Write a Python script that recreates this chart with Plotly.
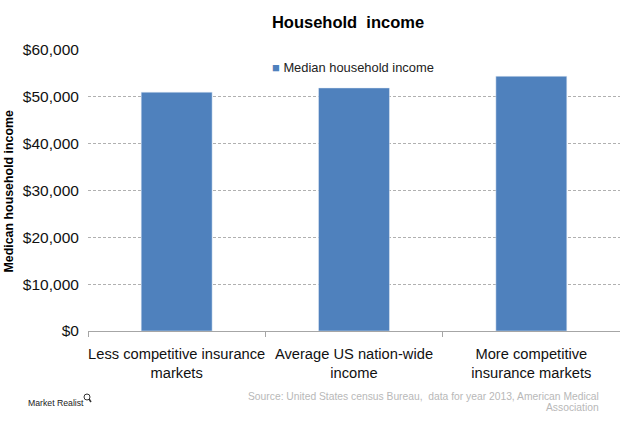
"""Household income bar chart."""
import plotly.graph_objects as go

CATEGORIES = [
    "Less competitive insurance<br>markets",
    "Average US nation-wide<br>income",
    "More competitive<br>insurance markets",
]
INCOME = [51000, 51900, 54400]
TICK_VALUES = [0, 10000, 20000, 30000, 40000, 50000, 60000]
TICK_LABELS = ["$0", "$10,000", "$20,000", "$30,000", "$40,000", "$50,000", "$60,000"]

FONT = "Liberation Sans"
W, H = 620, 428
LEFT, TOP, BOTTOM = 88, 50, 331


def px_x(x):
    # pixel -> paper
    return (x - LEFT) / (W - LEFT)


def px_y(y):
    return (BOTTOM - y) / (BOTTOM - TOP)


fig = go.Figure(go.Bar(
    x=CATEGORIES, y=INCOME, name="Median household income",
    marker=dict(color="#4f81bd"), width=0.4, showlegend=False))

fig.update_layout(
    width=W, height=H,
    margin=dict(l=LEFT, r=0, t=TOP, b=H - BOTTOM, autoexpand=False),
    paper_bgcolor="white", plot_bgcolor="white",
    font=dict(family=FONT, color="#111111"),
    title=dict(text="<b>Household  income</b>", x=348 / W, xanchor="center",
               y=1 - 22 / H, yanchor="middle", font=dict(size=16.5, color="black")),
)
fig.update_xaxes(
    showline=True, linecolor="#a6a6a6", linewidth=1,
    ticks="outside", ticklen=5, tickcolor="#a6a6a6",
    tickson="boundaries", tickangle=0, automargin=False, ticklabelstandoff=9,
    tickfont=dict(size=14.7, color="#111111"))
fig.update_yaxes(
    range=[0, 60000], tickvals=TICK_VALUES, ticktext=TICK_LABELS,
    tickfont=dict(size=15.5, color="#111111"), automargin=False,
    showgrid=True, gridcolor="#b0b0b0", griddash="3px,2px", gridwidth=1,
    zeroline=False, showline=False, ticks="outside", ticklen=5, tickcolor="rgba(0,0,0,0)")

fig.add_annotation(
    text="<b>Medican household income</b>", xref="paper", yref="paper",
    x=px_x(8), y=px_y(191.5), textangle=-90, xanchor="center", yanchor="middle",
    showarrow=False, font=dict(size=12.4, color="black"))
# legend entry sits inside the plot, swatch tight against the label
fig.add_annotation(
    text="<span style='color:#4f81bd'>■</span> Median household income",
    xref="paper", yref="paper", x=px_x(270), y=px_y(67), xanchor="left", yanchor="middle",
    showarrow=False, font=dict(size=12.9, color="#222222"))
# source as two annotations, its line spacing is tighter than plotly's
fig.add_annotation(
    text="Source: United States census Bureau,  data for year 2013, American Medical",
    xref="paper", yref="paper", x=px_x(601), y=px_y(396), xanchor="right", yanchor="middle",
    showarrow=False, font=dict(size=10.3, color="#b8b8b8"))
fig.add_annotation(
    text="Association",
    xref="paper", yref="paper", x=px_x(601), y=px_y(407.5), xanchor="right", yanchor="middle",
    showarrow=False, font=dict(size=10.3, color="#b8b8b8"))
fig.add_annotation(
    text="Market Realist", xref="paper", yref="paper", x=px_x(26), y=px_y(403),
    xanchor="left", yanchor="middle", showarrow=False,
    font=dict(size=8.7, color="#222222"))

# magnifier next to the logo text
fig.add_shape(type="circle", xref="paper", yref="paper",
              x0=px_x(84), x1=px_x(90), y0=px_y(400), y1=px_y(394),
              line=dict(color="#333333", width=1))
fig.add_shape(type="line", xref="paper", yref="paper",
              x0=px_x(89), x1=px_x(91), y0=px_y(399), y1=px_y(402),
              line=dict(color="#333333", width=1.5))

# default page has an 8px body margin, the chart fills the window
fig.write_html("out.html", config={"displayModeBar": False},
               post_script="document.body.style.margin='0';")
